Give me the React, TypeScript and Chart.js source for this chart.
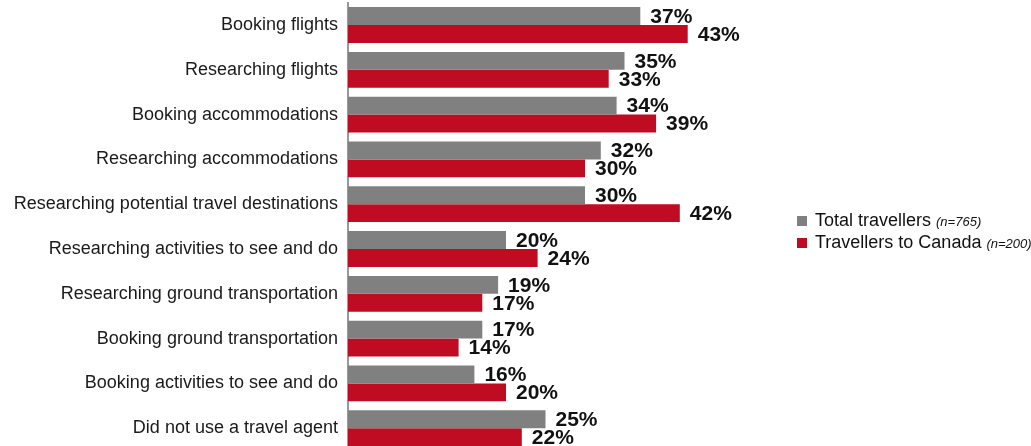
import React, { useEffect, useRef } from "react";
import { Chart, registerables } from "chart.js";

Chart.register(...registerables);

const categories = [
  "Booking flights",
  "Researching flights",
  "Booking accommodations",
  "Researching accommodations",
  "Researching potential travel destinations",
  "Researching activities to see and do",
  "Researching ground transportation",
  "Booking ground transportation",
  "Booking activities to see and do",
  "Did not use a travel agent",
];
const totalTravellers = [37, 35, 34, 32, 30, 20, 19, 17, 16, 25];
const canadaTravellers = [43, 33, 39, 30, 42, 24, 17, 14, 20, 22];
const seriesNames = ["Total travellers", "Travellers to Canada"];
const seriesNotes = ["(n=765)", "(n=200)"];
const seriesColors = ["#808080", "#C00C22"];

const FONT = "'Liberation Sans', Arial, sans-serif";

const valueLabels = {
  id: "valueLabels",
  afterDatasetsDraw(chart: any) {
    const ctx = chart.ctx;
    ctx.save();
    ctx.font = `bold 21px ${FONT}`;
    ctx.fillStyle = "#111";
    ctx.textAlign = "left";
    ctx.textBaseline = "middle";
    chart.data.datasets.forEach((ds: any, di: number) => {
      const meta = chart.getDatasetMeta(di);
      meta.data.forEach((el: any, i: number) => {
        ctx.fillText(ds.data[i] + "%", el.x + 10, el.y + 1);
      });
    });
    ctx.restore();
  },
};

const customLegend = {
  id: "customLegend",
  afterDraw(chart: any) {
    const ctx = chart.ctx;
    ctx.save();
    const x0 = 797;
    const ys = [221, 243];
    seriesNames.forEach((name, i) => {
      const y = ys[i];
      ctx.fillStyle = seriesColors[i];
      ctx.fillRect(x0, y - 5, 10, 10);
      ctx.fillStyle = "#111";
      ctx.textBaseline = "middle";
      ctx.textAlign = "left";
      ctx.font = `18px ${FONT}`;
      ctx.fillText(name, x0 + 18, y);
      const w = ctx.measureText(name + " ").width;
      ctx.font = `italic 13px ${FONT}`;
      ctx.fillText(seriesNotes[i], x0 + 18 + w, y + 1);
    });
    ctx.restore();
  },
};

export default function App() {
  const ref = useRef<HTMLCanvasElement>(null);
  useEffect(() => {
    document.body.style.margin = "0";
    const chart = new Chart(ref.current!, {
      type: "bar",
      data: {
        labels: categories,
        datasets: [
          {
            label: seriesNames[0],
            data: totalTravellers,
            backgroundColor: seriesColors[0],
            categoryPercentage: 0.8,
            barPercentage: 1.0,
          },
          {
            label: seriesNames[1],
            data: canadaTravellers,
            backgroundColor: seriesColors[1],
            categoryPercentage: 0.8,
            barPercentage: 1.0,
          },
        ],
      },
      options: {
        indexAxis: "y",
        animation: false,
        responsive: false,
        layout: { padding: { top: 2.6, bottom: 1.4, right: 288, left: 0 } },
        plugins: {
          legend: { display: false },
          tooltip: { enabled: false },
        },
        scales: {
          x: { display: false, min: 0, max: 50 },
          y: {
            grid: { display: false, drawTicks: false },
            border: { display: true, color: "#999999", width: 2 },
            ticks: {
              padding: 10,
              color: "#1a1a1a",
              font: { family: FONT, size: 18 },
            },
            afterFit(scale: any) {
              scale.width = 348;
              scale.paddingTop = 0;
              scale.paddingBottom = 0;
            },
          },
        },
      },
      plugins: [valueLabels, customLegend],
    });
    return () => chart.destroy();
  }, []);
  return (
    <div style={{ position: "fixed", left: 0, top: 0, width: 1031, height: 452 }}>
      <canvas ref={ref} width={1031} height={452} style={{ display: "block" }} />
    </div>
  );
}
